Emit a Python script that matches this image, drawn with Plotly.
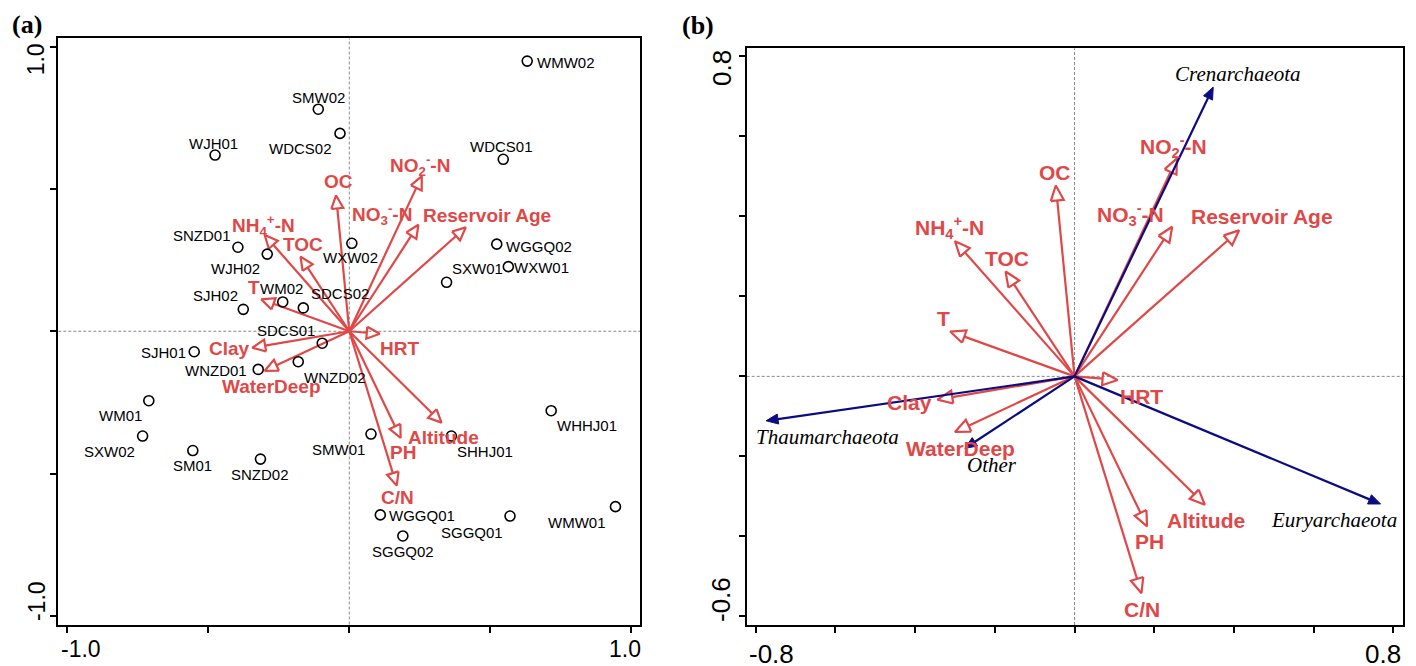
import math
import plotly.graph_objects as go

# ---------------- data ----------------
sites = ["WMW02", "SMW02", "WDCS02", "WJH01", "WDCS01", "SNZD01", "WJH02", "WXW02",
         "WGGQ02", "WXW01", "SXW01", "SJH02", "WM02", "SDCS02", "SDCS01", "SJH01",
         "WNZD01", "WNZD02", "WM01", "SXW02", "SM01", "SNZD02", "SMW01", "SHHJ01",
         "WHHJ01", "WMW01", "WGGQ01", "SGGQ01", "SGGQ02"]
site_x = [0.631, -0.110, -0.033, -0.476, 0.546, -0.395, -0.291, 0.009,
          0.523, 0.564, 0.345, -0.376, -0.236, -0.163, -0.096, -0.550,
          -0.323, -0.181, -0.711, -0.733, -0.555, -0.315, 0.077, 0.362,
          0.716, 0.944, 0.110, 0.570, 0.190]
site_y = [0.949, 0.780, 0.695, 0.619, 0.604, 0.295, 0.271, 0.309,
          0.306, 0.227, 0.172, 0.077, 0.103, 0.082, -0.042, -0.072,
          -0.134, -0.107, -0.244, -0.368, -0.419, -0.449, -0.361, -0.368,
          -0.279, -0.616, -0.645, -0.649, -0.719]

env_names = ["OC", "NO<sub>2</sub><sup>-</sup>-N", "NO<sub>3</sub><sup>-</sup>-N", "Reservoir Age",
             "NH<sub>4</sub><sup>+</sup>-N", "TOC", "T", "HRT", "Clay", "WaterDeep",
             "Altitude", "PH", "C/N"]
env_x = [-0.047, 0.257, 0.245, 0.413, -0.300, -0.173, -0.312, 0.108, -0.344, -0.300, 0.327, 0.182, 0.168]
env_y = [0.477, 0.545, 0.374, 0.365, 0.338, 0.262, 0.112, -0.009, -0.058, -0.139, -0.321, -0.375, -0.542]

species = ["Crenarchaeota", "Thaumarchaeota", "Other", "Euryarchaeota"]
sp_x = [0.348, -0.774, -0.275, 0.768]
sp_y = [0.723, -0.111, -0.180, -0.319]

a_ticks = [-1.0, -0.5, 0.0, 0.5, 1.0]
a_tick_labels = {-1.0: "-1.0", 1.0: "1.0"}
b_ticks = [-0.8, -0.6, -0.4, -0.2, 0.0, 0.2, 0.4, 0.6, 0.8]
b_yticks = [-0.6, -0.4, -0.2, 0.0, 0.2, 0.4, 0.6, 0.8]
b_xtick_labels = {-0.8: "-0.8", 0.8: "0.8"}
b_ytick_labels = {-0.6: "-0.6", 0.8: "0.8"}

# ---------------- styling / layout geometry ----------------
OFF = 8                      # page body margin of the html page
W, H = 1416 - OFF, 666 - OFF
RED = "#e04848"
NAVY = "#0c0c82"
SANS = "Liberation Sans, Arial, sans-serif"
SERIF = "Liberation Serif, Times New Roman, serif"

A_BOX = (58.3, 640.0, 38.3, 624.5)     # left, right, top, bottom (window px)
B_BOX = (746.7, 1403.3, 48.3, 625.0)
A_XR, A_YR = [-1.032, 1.031], [-1.030, 1.029]
B_XR, B_YR = [-0.8226, 0.825], [-0.6215, 0.820]


def dom(box):
    l, r, t, b = [v - OFF for v in box]
    return [l / W, r / W], [1 - b / H, 1 - t / H]


def scale(box, xr, yr):
    l, r, t, b = box
    return (r - l) / (xr[1] - xr[0]), (b - t) / (yr[1] - yr[0])


A_S = scale(A_BOX, A_XR, A_YR)
B_S = scale(B_BOX, B_XR, B_YR)

# label offsets in px (dx right, dy down) -- placement only
site_off = {
    "WMW02": (39, 1), "SMW02": (0, -12), "WDCS02": (-39, 15), "WJH01": (-2, -12),
    "WDCS01": (-2, -13), "SNZD01": (-36, -12), "WJH02": (-32, 14), "WXW02": (-1, 14),
    "WGGQ02": (42, 2), "WXW01": (33, 1), "SXW01": (31, -14), "SJH02": (-28, -14),
    "WM02": (-1, -13), "SDCS02": (37, -14), "SDCS01": (-36, -13), "SJH01": (-31, 1),
    "WNZD01": (-42, 1), "WNZD02": (37, 16), "WM01": (-28, 15), "SXW02": (-33, 15),
    "SM01": (0, 15), "SNZD02": (0, 15), "SMW01": (-33, 15), "SHHJ01": (34, 15),
    "WHHJ01": (36, 15), "WMW01": (-38, 16), "WGGQ01": (42, 1), "SGGQ01": (-38, 16),
    "SGGQ02": (0, 16),
}
env_off_a = [(2, -14), (-2, -11), (-36, -10), (21, -12), (-1, -10), (2, -12), (-7, -12),
             (20, 15), (-23, 1), (7, 16), (2, 15), (2, 14), (1, 12)]
env_off_b = [(-1, -13), (-3, -12), (-42, -12), (23, -14), (-5, -14), (1, -13), (-7, -13),
             (24, 17), (-28, 3), (6, 17), (1, 16), (2, 15), (1, 16)]
sp_off = [(25, -13), (61, 16), (27, 17), (-47, 16)]

fig = go.Figure()


def arrow_geom(x, y, s, L, hw):
    sx, sy = s
    px, py = x * sx, y * sy
    n = math.hypot(px, py)
    ux, uy = px / n, py / n
    bx, by = px - L * ux, py - L * uy
    c1 = ((bx - hw * uy) / sx, (by + hw * ux) / sy)
    c2 = ((bx + hw * uy) / sx, (by - hw * ux) / sy)
    return (bx / sx, by / sy), c1, c2


def add_arrows(xs, ys, s, xa, ya, color, L, hw, width, filled):
    shaft_x, shaft_y, head_x, head_y = [], [], [], []
    for x, y in zip(xs, ys):
        base, c1, c2 = arrow_geom(x, y, s, L, hw)
        shaft_x += [0, base[0], None]
        shaft_y += [0, base[1], None]
        if filled:
            fig.add_trace(go.Scatter(x=[x, c1[0], c2[0], x], y=[y, c1[1], c2[1], y], mode="lines",
                                     fill="toself", fillcolor=color, line=dict(color=color, width=1),
                                     xaxis=xa, yaxis=ya, hoverinfo="skip"))
        else:
            head_x += [c1[0], x, c2[0], c1[0], None]
            head_y += [c1[1], y, c2[1], c1[1], None]
    fig.add_trace(go.Scatter(x=shaft_x, y=shaft_y, mode="lines", line=dict(color=color, width=width),
                             xaxis=xa, yaxis=ya, hoverinfo="skip"))
    if not filled:
        fig.add_trace(go.Scatter(x=head_x, y=head_y, mode="lines",
                                 line=dict(color=color, width=width),
                                 xaxis=xa, yaxis=ya, hoverinfo="skip"))


# panel (a)
add_arrows(env_x, env_y, A_S, "x", "y", RED, 13, 6, 2.2, False)
fig.add_trace(go.Scatter(x=site_x, y=site_y, mode="markers", xaxis="x", yaxis="y",
                         marker=dict(symbol="circle-open", size=10, color="black", line=dict(width=1.6))))

# panel (b)
add_arrows(env_x, env_y, B_S, "x2", "y2", RED, 15, 6.5, 2.2, False)
add_arrows(sp_x, sp_y, B_S, "x2", "y2", NAVY, 12, 5, 2.2, True)

C = dict(xanchor="center", yanchor="middle", showarrow=False)
ann = []
for name, x, y in zip(sites, site_x, site_y):
    dx, dy = site_off[name]
    ann.append(dict(x=x, y=y, xref="x", yref="y", text=name, xshift=dx, yshift=-dy,
                    font=dict(family=SANS, size=15, color="black"), **C))
for name, x, y, oa, ob in zip(env_names, env_x, env_y, env_off_a, env_off_b):
    ann.append(dict(x=x, y=y, xref="x", yref="y", text="<b>%s</b>" % name,
                    xshift=oa[0], yshift=-oa[1], font=dict(family=SANS, size=19, color=RED), **C))
    ann.append(dict(x=x, y=y, xref="x2", yref="y2", text="<b>%s</b>" % name,
                    xshift=ob[0], yshift=-ob[1], font=dict(family=SANS, size=21, color=RED), **C))
for name, x, y, o in zip(species, sp_x, sp_y, sp_off):
    ann.append(dict(x=x, y=y, xref="x2", yref="y2", text="<i>%s</i>" % name,
                    xshift=o[0], yshift=-o[1], font=dict(family=SERIF, size=21, color="black"), **C))

# tick labels (CanoDraw style placement)
for v, t in a_tick_labels.items():
    ann.append(dict(x=v, y=0, xref="x", yref="y domain", text=t,
                    xshift=13.4 if v < 0 else -6.5, yshift=-24,
                    font=dict(family=SANS, size=23, color="black"), **C))
    ann.append(dict(x=0, y=v, xref="x domain", yref="y", text=t, textangle=-90,
                    xshift=-22, yshift=15.2 if v < 0 else -12.5,
                    font=dict(family=SANS, size=23, color="black"), **C))
for v, t in b_xtick_labels.items():
    ann.append(dict(x=v, y=0, xref="x2", yref="y2 domain", text=t,
                    xshift=15.7 if v < 0 else -10, yshift=-29,
                    font=dict(family=SANS, size=26, color="black"), **C))
for v, t in b_ytick_labels.items():
    ann.append(dict(x=0, y=v, xref="x2 domain", yref="y2", text=t, textangle=-90,
                    xshift=-25, yshift=17.1 if v < 0 else -11.9,
                    font=dict(family=SANS, size=26, color="black"), **C))

ann.append(dict(x=(26.5 - OFF) / W, y=1 - (24 - OFF) / H, xref="paper", yref="paper", text="<b>(a)</b>",
                font=dict(family=SERIF, size=26, color="black"), **C))
ann.append(dict(x=(698.3 - OFF) / W, y=1 - (25.8 - OFF) / H, xref="paper", yref="paper", text="<b>(b)</b>",
                font=dict(family=SERIF, size=26, color="black"), **C))

shapes = []
for xa, ya in (("x", "y"), ("x2", "y2")):
    shapes.append(dict(type="line", xref=xa, yref=ya + " domain", x0=0, x1=0, y0=0, y1=1,
                       line=dict(color="#8a8a8a", width=1, dash="3px,2px"), layer="below"))
    shapes.append(dict(type="line", xref=xa + " domain", yref=ya, x0=0, x1=1, y0=0, y1=0,
                       line=dict(color="#8a8a8a", width=1, dash="3px,2px"), layer="below"))

axis_common = dict(showgrid=False, zeroline=False, showline=True, linecolor="black", linewidth=2,
                   mirror=True, ticks="outside", ticklen=6, tickwidth=2, tickcolor="black",
                   showticklabels=False, fixedrange=True)
ad, ayd = dom(A_BOX)
bd, byd = dom(B_BOX)
fig.update_layout(
    width=W, height=H, margin=dict(l=0, r=0, t=0, b=0),
    paper_bgcolor="white", plot_bgcolor="white", showlegend=False,
    xaxis=dict(domain=ad, range=A_XR, tickvals=a_ticks, anchor="y", **axis_common),
    yaxis=dict(domain=ayd, range=A_YR, tickvals=a_ticks, anchor="x", **axis_common),
    xaxis2=dict(domain=bd, range=B_XR, tickvals=b_ticks, anchor="y2", **axis_common),
    yaxis2=dict(domain=byd, range=B_YR, tickvals=b_yticks, anchor="x2", **axis_common),
    annotations=ann, shapes=shapes,
)

fig.write_html("out.html")
